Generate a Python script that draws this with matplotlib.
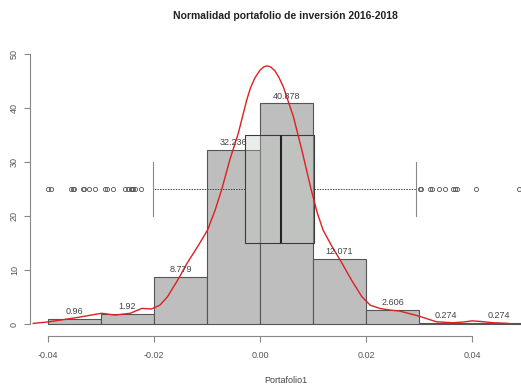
import matplotlib
matplotlib.use('Agg')
import matplotlib.pyplot as plt
import numpy as np

plt.rcParams['font.family'] = ['Liberation Sans', 'DejaVu Sans']

# histograma (densidad)
bin_edges = [-0.04, -0.03, -0.02, -0.01, 0.00, 0.01, 0.02, 0.03, 0.04, 0.05]
densities = [0.96, 1.92, 8.779, 32.236, 40.878, 12.071, 2.606, 0.274, 0.274]
bar_labels = ['0.96', '1.92', '8.779', '32.236', '40.878', '12.071', '2.606', '0.274', '0.274']

# curva de densidad (kernel)
kde_x = [-0.0428, -0.0400, -0.0346, -0.0299, -0.0274, -0.0245, -0.0223, -0.0205,
         -0.0189, -0.0175, -0.0155, -0.0138, -0.0118, -0.0099, -0.0085, -0.0072,
         -0.0057, -0.0041, -0.0025, -0.0018, -0.0010, 0.0000, 0.0007, 0.0013,
         0.0020, 0.0028, 0.0036, 0.0044, 0.0063, 0.0079, 0.0096, 0.0108, 0.0119,
         0.0135, 0.0151, 0.0173, 0.0192, 0.0208, 0.0226, 0.0245, 0.0264, 0.0299,
         0.0333, 0.0364, 0.0385, 0.0400, 0.0415, 0.0440, 0.0468]
kde_y = [0.13, 0.4, 1.2, 2.0, 1.67, 2.0, 2.9, 2.8,
         3.5, 5.0, 8.2, 11.2, 14.3, 17.4, 21.0, 25.0,
         30.4, 35.3, 41.5, 43.7, 45.5, 47.0, 47.6, 47.8,
         47.6, 46.9, 45.6, 43.9, 38.4, 32.2, 25.1, 20.6, 17.4,
         14.5, 11.9, 8.1, 5.1, 3.5, 2.9, 2.6, 2.4, 1.5,
         0.43, 0.25, 0.4, 0.6, 0.5, 0.25, 0.13]

# boxplot
box_q1, box_med, box_q3 = -0.0028, 0.0040, 0.0102
whisk_lo, whisk_hi = -0.0202, 0.0294
fliers = [-0.04006, -0.03943, -0.03566, -0.03534, -0.03509, -0.03345, -0.03321,
          -0.03232, -0.03113, -0.02925, -0.02887, -0.02774, -0.02547, -0.02491,
          -0.02434, -0.02415, -0.02396, -0.02358, -0.02245,
          0.03019, 0.03038, 0.03208, 0.03245, 0.03377, 0.03490, 0.03642,
          0.03679, 0.03717, 0.04075, 0.04887]

fig = plt.figure(figsize=(5.21, 3.89), dpi=100, facecolor='white')
ax = fig.add_axes([0.0576, 0.136, 0.9424, 0.787])

widths = np.diff(bin_edges)
ax.bar(bin_edges[:-1], densities, width=widths, align='edge',
       color='#bebebe', edgecolor='#555555', linewidth=0.8, zorder=1)
for left, w, h, lab in zip(bin_edges[:-1], widths, densities, bar_labels):
    ax.text(left + w / 2, h + 0.5, lab, ha='center', va='bottom',
            fontsize=6.5, color='#444444', zorder=5)

stats = [dict(med=box_med, q1=box_q1, q3=box_q3, whislo=whisk_lo,
              whishi=whisk_hi, fliers=fliers)]
ax.bxp(stats, positions=[25], widths=20, orientation='horizontal',
       patch_artist=True, manage_ticks=False,
       boxprops=dict(facecolor=(0.76, 0.80, 0.76, 0.35), edgecolor='#3a3a3a', linewidth=0.8),
       medianprops=dict(color='#222222', linewidth=1.5),
       whiskerprops=dict(color='#444444', linewidth=0.7, linestyle=(0, (1.5, 1.2))),
       capprops=dict(color='#888888', linewidth=0.8),
       flierprops=dict(marker='o', markerfacecolor='none', markeredgecolor='#555555',
                       markersize=3, markeredgewidth=0.6), zorder=3)

ax.plot(kde_x, kde_y, color='#dd2020', linewidth=1.0, zorder=4)

ax.set_xlim(-0.0434, 0.04925)
ax.set_ylim(-2.22, 54.44)
ax.set_xticks([-0.04, -0.02, 0.00, 0.02, 0.04])
ax.set_xticklabels(['-0.04', '-0.02', '0.00', '0.02', '0.04'])
ax.set_yticks([0, 10, 20, 30, 40, 50])
ax.set_yticklabels(['0', '10', '20', '30', '40', '50'], rotation=90, va='center')
ax.tick_params(axis='x', labelsize=6.5, colors='#888888', labelcolor='#555555',
               length=4, width=0.8, pad=7)
ax.tick_params(axis='y', labelsize=6.5, colors='#888888', labelcolor='#555555',
               length=4, width=0.8, pad=4)

for s in ['top', 'right']:
    ax.spines[s].set_visible(False)
ax.spines['left'].set_bounds(0, 50)
ax.spines['bottom'].set_bounds(-0.04, 0.04)
ax.spines['left'].set_color('#888888')
ax.spines['bottom'].set_color('#888888')

ax.set_xlabel('Portafolio1', fontsize=6.5, color='#444444')
ax.xaxis.set_label_coords(0.521, -0.13)
fig.text(0.547, 0.958, 'Normalidad portafolio de inversión 2016-2018',
         ha='center', va='center', fontsize=7.5, fontweight='bold', color='#222222')

fig.savefig('out.png', dpi=100, facecolor='white')
